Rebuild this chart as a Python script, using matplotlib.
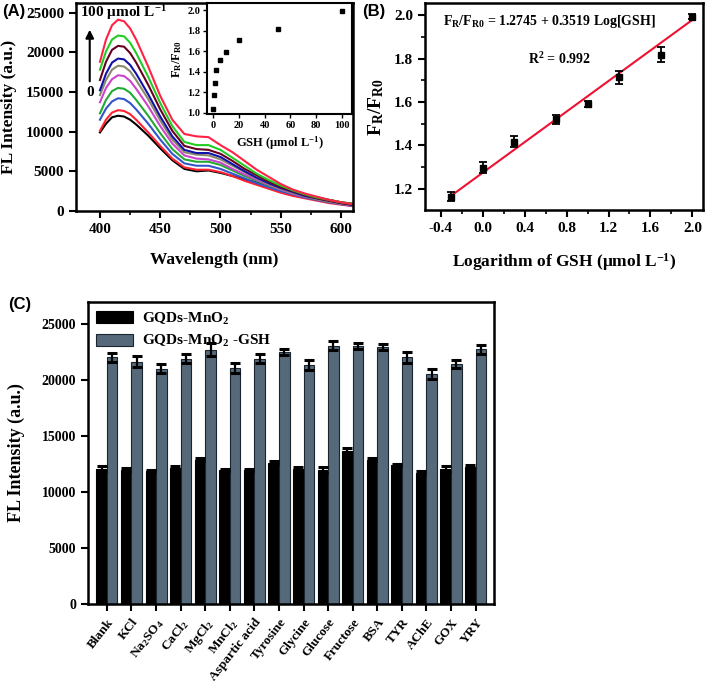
import matplotlib
matplotlib.use("Agg")
import matplotlib.pyplot as plt
import numpy as np
from matplotlib.ticker import MultipleLocator

plt.rcParams['font.family'] = ['Liberation Serif', 'DejaVu Serif']
plt.rcParams['font.weight'] = 'bold'
plt.rcParams['mathtext.fontset'] = 'custom'
plt.rcParams['mathtext.rm'] = 'Liberation Serif:bold'
plt.rcParams['mathtext.it'] = 'Liberation Serif:bold:italic'
plt.rcParams['mathtext.bf'] = 'Liberation Serif:bold'
plt.rcParams['mathtext.default'] = 'rm'

# ---------------- Panel A data: FL spectra ----------------
wavelength = [400, 405, 410, 415, 420, 425, 430, 440, 450, 460, 470, 480, 490,
              500, 510, 520, 530, 540, 550, 560, 570, 580, 590, 600, 610]
spec_0 = [9900, 11000, 11800, 12000, 11900, 11500, 10900, 9500, 7900, 6400, 5300, 5000, 5100,
          4800, 4400, 4000, 3600, 3200, 2800, 2400, 2000, 1700, 1400, 1100, 900]
spec_1 = [10100, 11500, 12400, 12700, 12600, 12200, 11500, 9900, 8200, 6600, 5500, 5200, 5200,
          4900, 4400, 3800, 3300, 2800, 2300, 1900, 1600, 1300, 1000, 800, 600]
spec_2 = [11500, 12900, 13800, 14200, 14100, 13600, 12800, 11000, 9000, 7200, 6000, 5700, 5700,
          5300, 4700, 4100, 3500, 3000, 2500, 2100, 1700, 1400, 1100, 850, 650]
spec_3 = [12300, 14000, 15100, 15500, 15400, 14900, 14000, 12000, 9800, 7800, 6500, 6200, 6200,
          5800, 5100, 4400, 3800, 3200, 2700, 2200, 1800, 1500, 1200, 900, 700]
spec_4 = [13700, 15500, 16600, 17100, 17000, 16400, 15400, 13200, 10700, 8500, 7000, 6600, 6500,
          6100, 5300, 4600, 3900, 3300, 2700, 2200, 1800, 1500, 1200, 900, 700]
spec_5 = [14600, 16500, 17800, 18300, 18200, 17600, 16500, 14100, 11400, 9000, 7400, 7100, 7000,
          6500, 5700, 4900, 4100, 3400, 2800, 2300, 1900, 1500, 1200, 950, 750]
spec_6 = [15200, 17300, 18700, 19200, 19100, 18400, 17300, 14700, 11900, 9400, 7700, 7300, 7300,
          6800, 5900, 5000, 4200, 3500, 2900, 2400, 1900, 1600, 1300, 1000, 750]
spec_7 = [16500, 18800, 20300, 20800, 20700, 19900, 18700, 15900, 12800, 10100, 8200, 7800, 7700,
          7200, 6300, 5300, 4500, 3700, 3000, 2500, 2000, 1600, 1300, 1000, 800]
spec_8 = [17800, 20100, 21600, 22100, 22000, 21200, 19900, 16900, 13600, 10700, 8700, 8300, 8300,
          7700, 6700, 5700, 4700, 3900, 3200, 2600, 2100, 1700, 1400, 1100, 900]
spec_9 = [18800, 21600, 23400, 24100, 23900, 23000, 21600, 18200, 14500, 11500, 9700, 9400, 9300,
          8300, 7400, 6300, 5200, 4300, 3400, 2700, 2200, 1800, 1400, 1100, 850]
spectra = [spec_0, spec_1, spec_2, spec_3, spec_4, spec_5, spec_6, spec_7, spec_8, spec_9]
spec_colors = ['#000000', '#ff2233', '#3355cc', '#22aa33', '#cc44cc',
               '#8a8a6a', '#1111aa', '#660022', '#22cc22', '#ff2244']

# inset data
gsh_conc = [0, 0.5, 1, 2, 5, 10, 20, 50, 100]
ratio_inset = [1.04, 1.17, 1.29, 1.42, 1.52, 1.59, 1.71, 1.82, 1.99]

# ---------------- Panel B data ----------------
log_gsh = [-0.3, 0.0, 0.3, 0.7, 1.0, 1.3, 1.7, 2.0]
ratio_b = [1.165, 1.297, 1.417, 1.520, 1.590, 1.715, 1.818, 1.993]
ratio_err = [0.02, 0.025, 0.025, 0.02, 0.015, 0.03, 0.035, 0.01]
fit_intercept = 1.2745
fit_slope = 0.3519

# ---------------- Panel C data ----------------
categories = ['Blank', 'KCl', 'Na$_2$SO$_4$', 'CaCl$_2$', 'MgCl$_2$', 'MnCl$_2$',
              'Aspartic acid', 'Tyrosine', 'Glycine', 'Glucose', 'Fructose', 'BSA',
              'TYR', 'AChE', 'GOX', 'YRY']
probe = [12100, 12000, 11900, 12150, 12900, 11950, 12000, 12650, 12050, 12000,
         13700, 12900, 12450, 11750, 12050, 12250]
probe_err = [200, 200, 100, 150, 150, 100, 100, 150, 220, 250, 220, 150, 100, 150, 270, 150]
probe_gsh = [22050, 21670, 21040, 21940, 22740, 21070, 21940, 22530, 21370, 23100,
             23070, 22980, 22060, 20560, 21460, 22770]
probe_gsh_err = [380, 460, 420, 400, 580, 460, 380, 300, 440, 380, 300, 300, 480, 460, 330, 400]

fig = plt.figure(figsize=(7.09, 6.85), dpi=100)

SP_LW = 1.8

def style_axes(ax, fs):
    for s in ax.spines.values():
        s.set_linewidth(SP_LW)
    ax.tick_params(direction='out', width=1.5, length=5, labelsize=fs)
    ax.tick_params(which='minor', direction='out', width=1.2, length=3)
    for lab in ax.get_xticklabels() + ax.get_yticklabels():
        lab.set_fontweight('bold')

# ---- Panel A ----
axA = fig.add_axes([0.107, 0.692, 0.391, 0.3036])
for sp, c in zip(spectra, spec_colors):
    axA.plot(wavelength, sp, color=c, lw=1.5)
axA.set_xlim(380, 610)
axA.set_ylim(0, 26200)
axA.set_xticks([400, 450, 500, 550, 600])
axA.xaxis.set_minor_locator(MultipleLocator(25))
axA.set_yticks([0, 5000, 10000, 15000, 20000, 25000])
style_axes(axA, 11)
axA.set_xlabel('Wavelength (nm)', fontsize=12.5, fontweight='bold', labelpad=12)
axA.set_ylabel('FL Intensity (a.u.)', fontsize=12.5, fontweight='bold', labelpad=6)
axA.text(0.015, 0.955, '100 μmol L$^{-1}$', transform=axA.transAxes, fontsize=11,
         fontweight='bold', va='center', ha='left')
axA.annotate('', xy=(0.05, 0.885), xytext=(0.05, 0.61), xycoords='axes fraction',
             arrowprops=dict(arrowstyle='-|>', color='black', lw=1.5, mutation_scale=12))
axA.text(0.05, 0.57, '0', transform=axA.transAxes, fontsize=11, fontweight='bold',
         ha='center', va='center')

# inset
axI = fig.add_axes([0.292, 0.8336, 0.2045, 0.162])
axI.plot(gsh_conc, ratio_inset, 's', color='black', ms=2.5)
axI.set_xlim(-5, 108)
axI.set_ylim(0.99, 2.07)
axI.set_xticks([0, 20, 40, 60, 80, 100])
axI.set_yticks([1.0, 1.2, 1.4, 1.6, 1.8, 2.0])
axI.yaxis.set_major_formatter(matplotlib.ticker.FormatStrFormatter('%.1f'))
for s in axI.spines.values():
    s.set_linewidth(1.5)
axI.tick_params(direction='out', width=1.0, length=3, labelsize=7.5, pad=2)
axI.set_xlabel('GSH (μmol L$^{-1}$)', fontsize=9, fontweight='bold', labelpad=3)
axI.set_ylabel('F$_R$/F$_{R0}$', fontsize=9, fontweight='bold', labelpad=2)

# ---- Panel B ----
axB = fig.add_axes([0.5994, 0.6934, 0.392, 0.302])
xfit = np.array([log_gsh[0], log_gsh[-1]])
axB.plot(xfit, fit_intercept + fit_slope * xfit, color='#ee1133', lw=1.5)
axB.errorbar(log_gsh, ratio_b, yerr=ratio_err, fmt='s', color='black', ms=5,
             capsize=3, elinewidth=1.3, capthick=1.3)
axB.set_xlim(-0.55, 2.1)
axB.set_ylim(1.103, 2.055)
axB.set_xticks([-0.4, 0.0, 0.4, 0.8, 1.2, 1.6, 2.0])
axB.xaxis.set_major_formatter(matplotlib.ticker.FormatStrFormatter('%.1f'))
axB.xaxis.set_minor_locator(MultipleLocator(0.2))
axB.set_yticks([1.2, 1.4, 1.6, 1.8, 2.0])
axB.yaxis.set_major_formatter(matplotlib.ticker.FormatStrFormatter('%.1f'))
axB.yaxis.set_minor_locator(MultipleLocator(0.1))
style_axes(axB, 11)
axB.set_xlabel('Logarithm of GSH (μmol L$^{-1}$)', fontsize=12.5, fontweight='bold', labelpad=12)
axB.set_ylabel('F$_R$/F$_{R0}$', fontsize=14, fontweight='bold', labelpad=6)
axB.text(0.065, 0.91, 'F$_R$/F$_{R0}$ = 1.2745 + 0.3519 Log[GSH]', transform=axB.transAxes,
         fontsize=10, fontweight='bold', va='center', ha='left')
axB.text(0.37, 0.73, 'R$^2$ = 0.992', transform=axB.transAxes,
         fontsize=10, fontweight='bold', va='center', ha='left')

# ---- Panel C ----
axC = fig.add_axes([0.1241, 0.1182, 0.5727, 0.4409])
x = np.arange(len(categories))
bw = 0.43
axC.bar(x - bw / 2, probe, bw, color='black', edgecolor='black', lw=0.8,
        label='GQDs-MnO$_2$', yerr=probe_err,
        error_kw=dict(ecolor='black', capsize=3.5, elinewidth=1.6, capthick=2.2))
axC.bar(x + bw / 2, probe_gsh, bw, color='#56697a', edgecolor='#1a2530', lw=0.8,
        label='GQDs-MnO$_2$ -GSH', yerr=probe_gsh_err,
        error_kw=dict(ecolor='black', capsize=3.5, elinewidth=1.6, capthick=2.2))
axC.set_xlim(-0.77, 15.75)
axC.set_ylim(0, 27000)
axC.set_yticks([0, 5000, 10000, 15000, 20000, 25000])
axC.set_xticks(x)
axC.set_xticklabels(categories, rotation=52, ha='right', rotation_mode='anchor')
style_axes(axC, 10)
axC.tick_params(axis='x', labelsize=9.5, pad=4)
axC.set_ylabel('FL Intensity (a.u.)', fontsize=13, fontweight='bold', labelpad=12)
leg = axC.legend(loc='upper left', frameon=False, fontsize=11, handlelength=2.4,
                 handleheight=0.9, labelspacing=0.45, borderaxespad=0.15, handletextpad=0.6,
                 bbox_to_anchor=(0.0, 1.0))

# panel labels
fig.text(0.003, 0.983, '(A)', fontsize=12, fontweight='bold', family='Liberation Sans', va='center')
fig.text(0.511, 0.983, '(B)', fontsize=12, fontweight='bold', family='Liberation Sans', va='center')
fig.text(0.011, 0.556, '(C)', fontsize=12, fontweight='bold', family='Liberation Sans', va='center')

fig.savefig('out.png', dpi=100)
